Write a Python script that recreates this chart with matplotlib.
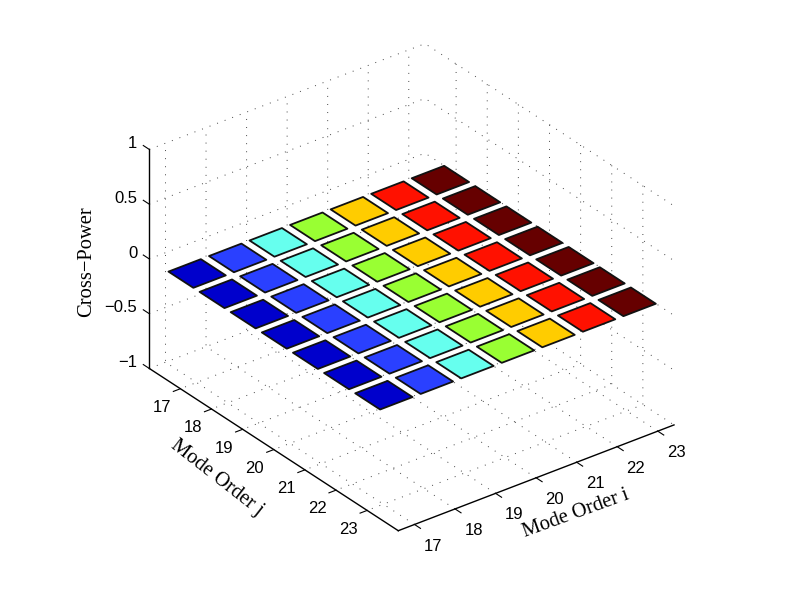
import matplotlib
matplotlib.use("Agg")
import matplotlib.pyplot as plt
from mpl_toolkits.mplot3d.art3d import Poly3DCollection

plt.rcParams["font.family"] = ["Liberation Sans", "DejaVu Sans"]

# mode orders and cross-power between them (all pairs sit on the zero plane)
mode_i = [17, 18, 19, 20, 21, 22, 23]
mode_j = [17, 18, 19, 20, 21, 22, 23]
cross_power = [
    [0, 0, 0, 0, 0, 0, 0],
    [0, 0, 0, 0, 0, 0, 0],
    [0, 0, 0, 0, 0, 0, 0],
    [0, 0, 0, 0, 0, 0, 0],
    [0, 0, 0, 0, 0, 0, 0],
    [0, 0, 0, 0, 0, 0, 0],
    [0, 0, 0, 0, 0, 0, 0],
]
column_colors = ["#0000cc", "#2a40ff", "#66ffee", "#99ff33", "#ffcc00", "#ff1100", "#660000"]
z_ticks = [-1, -0.5, 0, 0.5, 1]
z_ticklabels = ["\u22121", "\u22120.5", "0", "0.5", "1"]

BAR_HALF = 0.4

fig = plt.figure(figsize=(7.96, 5.99), dpi=100)
ax = fig.add_axes([115.85 / 796, 16.05 / 599, 576 / 796, 576 / 599], projection="3d", proj_type="ortho")
ax.view_init(elev=30, azim=-127.5)
ax.set_box_aspect((347.5, 409, 252.9))

for row, j in enumerate(mode_j):
    for col, i in enumerate(mode_i):
        z = cross_power[row][col]
        corners = [
            (i - BAR_HALF, j - BAR_HALF, z),
            (i + BAR_HALF, j - BAR_HALF, z),
            (i + BAR_HALF, j + BAR_HALF, z),
            (i - BAR_HALF, j + BAR_HALF, z),
        ]
        tile = Poly3DCollection([corners], facecolors=column_colors[col], edgecolors="#111111", linewidths=1.3)
        ax.add_collection3d(tile)

ax.set_xlim(16.6, 23.4)
ax.set_ylim(24, 16)
ax.set_zlim(-1, 1)
ax.set_xticks(mode_i)
ax.set_yticks(mode_j)
ax.set_zticks(z_ticks)
ax.set_zticklabels(z_ticklabels)

for axis in (ax.xaxis, ax.yaxis, ax.zaxis):
    axis.set_pane_color((1, 1, 1, 0))
    axis.pane.set_edgecolor((1, 1, 1, 0))
    axis.line.set_color("black")
    axis.line.set_linewidth(1.0)
    axis._axinfo["grid"].update(color="#444444", linewidth=0.7, linestyle=(0, (1, 7.3)))
    axis._axinfo["tick"]["linewidth"] = {True: 0.8, False: 0.8}

# the reversed j axis makes x and y ticks point into the box, so flip them
ax.xaxis._axinfo["tick"].update(inward_factor=0, outward_factor=-0.3)
ax.yaxis._axinfo["tick"].update(inward_factor=0, outward_factor=-0.32)
ax.zaxis._axinfo["tick"].update(inward_factor=0, outward_factor=0.3)

# matlab draws the z ticks along j, mplot3d would use i here
ax.zaxis._get_tickdir = lambda position: 1

ax.tick_params(axis="x", labelsize=12, colors="black", pad=0)
ax.tick_params(axis="y", labelsize=12, colors="black", pad=-0.5)
ax.tick_params(axis="z", labelsize=12, pad=-3)
for label in ax.get_xticklabels():
    label.set_ha("left")
for label in ax.get_yticklabels():
    label.set_ha("right")
for label in ax.get_zticklabels():
    label.set_ha("right")
    label.set_va("baseline")

# axis titles placed by hand, the 3d axis labels land too close to the middle
serif = ["Liberation Serif", "DejaVu Serif"]
fig.text(576 / 796, 1 - 514 / 599, "Mode Order i", family=serif, fontsize=14.8, rotation=20, ha="center", va="center")
fig.text(217 / 796, 1 - 478 / 599, "Mode Order j", family=serif, fontsize=14.8, rotation=-38, ha="center", va="center")
fig.text(87 / 796, 1 - 262 / 599, "Cross\u2212Power", family=serif, fontsize=14.8, rotation=90, ha="center", va="center")

fig.savefig("out.png", dpi=100)
